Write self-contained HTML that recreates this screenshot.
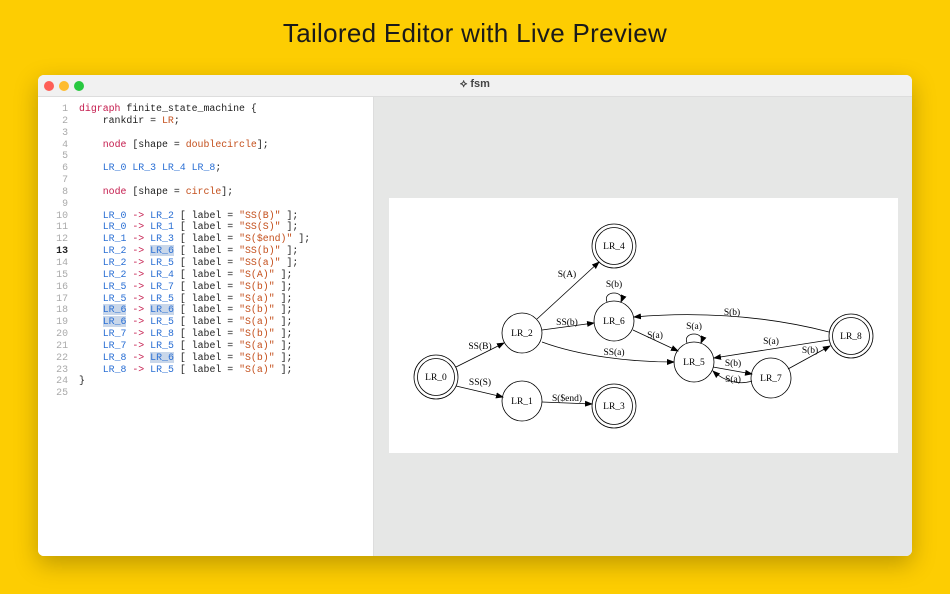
<!DOCTYPE html>
<html><head><meta charset="utf-8"><style>
body{margin:0;width:950px;height:594px;background:#fdcd02;position:relative;overflow:hidden;font-family:"Liberation Sans",sans-serif}
.title{position:absolute;top:18px;left:0;width:950px;text-align:center;font-size:26px;color:#1a1a1a;letter-spacing:0.3px}
.win{position:absolute;left:38px;top:75px;width:874px;height:481px;background:#fff;border-radius:6px;overflow:hidden;box-shadow:0 8px 24px rgba(0,0,0,0.25)}
.bar{position:absolute;left:0;top:0;width:874px;height:21px;background:#f1f1f1;border-bottom:1px solid #ddd}
.dot{position:absolute;top:6px;width:10px;height:10px;border-radius:50%}
.bt{position:absolute;top:3px;left:0;width:874px;text-align:center;font-size:11px;color:#444;font-weight:bold}
.ed{position:absolute;left:0;top:22px;width:335px;height:459px;background:#fff;border-right:1px solid #ddd}
.pv{position:absolute;left:336px;top:22px;width:538px;height:459px;background:#e6e7e6}
.code{position:absolute;left:0;top:6px;font-family:"Liberation Mono",monospace;font-size:9.9px;line-height:11.85px;white-space:pre;color:#222}
.ln{display:inline-block;width:30px;text-align:right;color:#aaa;margin-right:11px}
.k{color:#c41a4c}.s{color:#c4501d}.b{color:#2a6fd4}.h{background:#c9d7ea}
</style></head><body>
<div class="title">Tailored Editor with Live Preview</div>
<div class="win">
<div class="bar"><div class="dot" style="left:6px;background:#fe5f57"></div><div class="dot" style="left:21px;background:#febc2e"></div><div class="dot" style="left:36px;background:#28c840"></div><div class="bt">⟡ fsm</div></div>
<div class="ed"><div class="code"><span class="ln">1</span><span class="k">digraph</span> finite_state_machine {
<span class="ln">2</span>    rankdir = <span class="s">LR</span>;
<span class="ln">3</span>
<span class="ln">4</span>    <span class="k">node</span> [shape = <span class="s">doublecircle</span>];
<span class="ln">5</span>
<span class="ln">6</span>    <span class="b">LR_0 LR_3 LR_4 LR_8</span>;
<span class="ln">7</span>
<span class="ln">8</span>    <span class="k">node</span> [shape = <span class="s">circle</span>];
<span class="ln">9</span>
<span class="ln">10</span>    <span class="b">LR_0</span> <span class="k">-&gt;</span> <span class="b">LR_2</span> [ label = <span class="s">"SS(B)"</span> ];
<span class="ln">11</span>    <span class="b">LR_0</span> <span class="k">-&gt;</span> <span class="b">LR_1</span> [ label = <span class="s">"SS(S)"</span> ];
<span class="ln">12</span>    <span class="b">LR_1</span> <span class="k">-&gt;</span> <span class="b">LR_3</span> [ label = <span class="s">"S($end)"</span> ];
<span class="ln" style="color:#222;font-weight:bold">13</span>    <span class="b">LR_2</span> <span class="k">-&gt;</span> <span class="b h">LR_6</span> [ label = <span class="s">"SS(b)"</span> ];
<span class="ln">14</span>    <span class="b">LR_2</span> <span class="k">-&gt;</span> <span class="b">LR_5</span> [ label = <span class="s">"SS(a)"</span> ];
<span class="ln">15</span>    <span class="b">LR_2</span> <span class="k">-&gt;</span> <span class="b">LR_4</span> [ label = <span class="s">"S(A)"</span> ];
<span class="ln">16</span>    <span class="b">LR_5</span> <span class="k">-&gt;</span> <span class="b">LR_7</span> [ label = <span class="s">"S(b)"</span> ];
<span class="ln">17</span>    <span class="b">LR_5</span> <span class="k">-&gt;</span> <span class="b">LR_5</span> [ label = <span class="s">"S(a)"</span> ];
<span class="ln">18</span>    <span class="b h">LR_6</span> <span class="k">-&gt;</span> <span class="b h">LR_6</span> [ label = <span class="s">"S(b)"</span> ];
<span class="ln">19</span>    <span class="b h">LR_6</span> <span class="k">-&gt;</span> <span class="b">LR_5</span> [ label = <span class="s">"S(a)"</span> ];
<span class="ln">20</span>    <span class="b">LR_7</span> <span class="k">-&gt;</span> <span class="b">LR_8</span> [ label = <span class="s">"S(b)"</span> ];
<span class="ln">21</span>    <span class="b">LR_7</span> <span class="k">-&gt;</span> <span class="b">LR_5</span> [ label = <span class="s">"S(a)"</span> ];
<span class="ln">22</span>    <span class="b">LR_8</span> <span class="k">-&gt;</span> <span class="b h">LR_6</span> [ label = <span class="s">"S(b)"</span> ];
<span class="ln">23</span>    <span class="b">LR_8</span> <span class="k">-&gt;</span> <span class="b">LR_5</span> [ label = <span class="s">"S(a)"</span> ];
<span class="ln">24</span>}
<span class="ln">25</span></div></div>
<div class="pv"></div>
</div>
<svg style="position:absolute;left:0;top:0" width="950" height="594" font-family="Liberation Serif,serif" font-size="9.5">
<defs><marker id="a" markerWidth="8" markerHeight="6" refX="7" refY="3" orient="auto" markerUnits="userSpaceOnUse"><path d="M0,0L8,3L0,6z" fill="#000"/></marker></defs>
<rect x="389" y="198" width="509" height="255" fill="#fff"/>
<g fill="none" stroke="#000" stroke-width="0.8">
<circle cx="436" cy="377" r="22"/><circle cx="436" cy="377" r="18.5"/>
<circle cx="522" cy="333" r="20"/><circle cx="522" cy="401" r="20"/>
<circle cx="614" cy="246" r="22"/><circle cx="614" cy="246" r="18.5"/>
<circle cx="614" cy="406" r="22"/><circle cx="614" cy="406" r="18.5"/>
<circle cx="614" cy="321" r="20"/><circle cx="694" cy="362" r="20"/><circle cx="771" cy="378" r="20"/>
<circle cx="851" cy="336" r="22"/><circle cx="851" cy="336" r="18.5"/>
<g marker-end="url(#a)">
<path d="M456,367L504,343"/>
<path d="M456,386L503,397"/>
<path d="M542,402L592,404"/>
<path d="M537,319L599,262"/>
<path d="M542,330L594,323"/>
<path d="M542,342C580,356 630,362 674,362"/>
<path d="M633,330L678,351"/>
<path d="M607,302C602,290 626,290 621,302"/>
<path d="M687,343C682,331 706,331 701,343"/>
<path d="M713,367L752,374"/>
<path d="M752,381C740,385 725,382 713,371"/>
<path d="M788,369L830,346"/>
<path d="M829,332C760,314 690,312 634,317"/>
<path d="M829,340L714,358"/>
</g></g>
<g fill="#000" text-anchor="middle">
<text x="436" y="380">LR_0</text><text x="522" y="336">LR_2</text><text x="522" y="404">LR_1</text>
<text x="614" y="249">LR_4</text><text x="614" y="409">LR_3</text><text x="614" y="324">LR_6</text>
<text x="694" y="365">LR_5</text><text x="771" y="381">LR_7</text><text x="851" y="339">LR_8</text>
<text x="480" y="349">SS(B)</text><text x="480" y="385">SS(S)</text><text x="567" y="401">S($end)</text>
<text x="567" y="277">S(A)</text><text x="567" y="325">SS(b)</text><text x="614" y="355">SS(a)</text>
<text x="614" y="287">S(b)</text><text x="655" y="338">S(a)</text><text x="694" y="329">S(a)</text>
<text x="733" y="366">S(b)</text><text x="733" y="382">S(a)</text><text x="810" y="353">S(b)</text>
<text x="732" y="315">S(b)</text><text x="771" y="344">S(a)</text>
</g></svg>
</body></html>
